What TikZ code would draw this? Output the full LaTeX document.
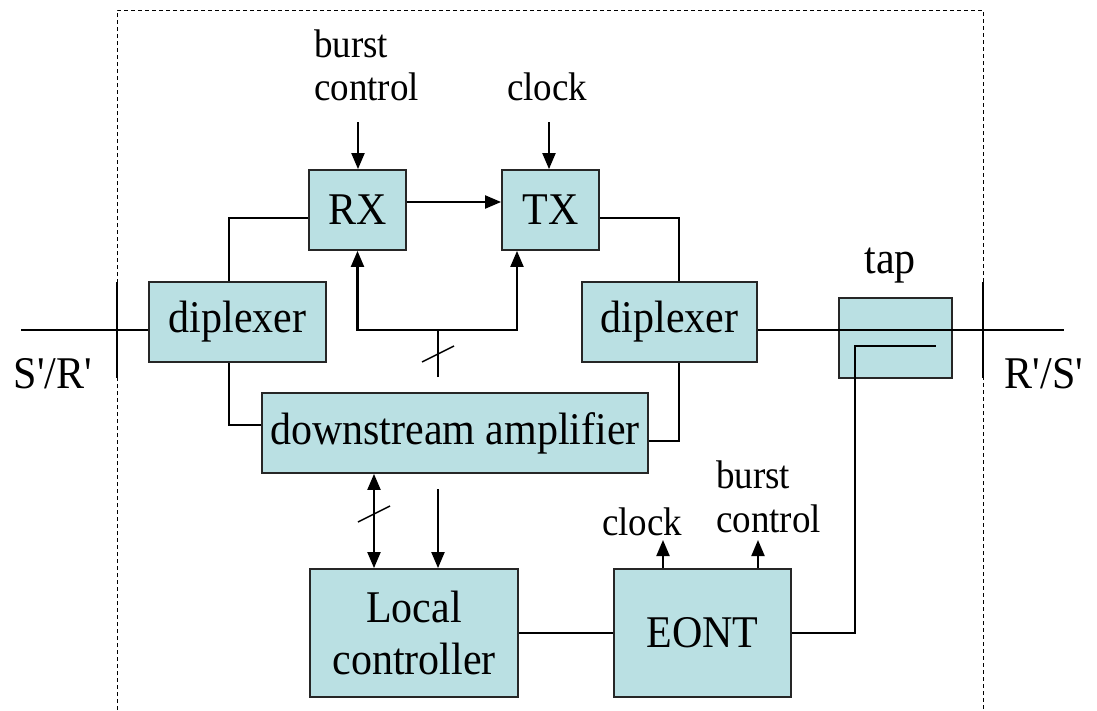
\documentclass[tikz,border=0pt]{standalone}
\usepackage{fontspec}
\usepackage{graphicx}
\setmainfont{Liberation Serif}
\usetikzlibrary{arrows.meta}
\definecolor{boxfill}{RGB}{186,224,227}
\newcommand{\bigf}{\fontsize{42}{52}\selectfont}
\newcommand{\smallf}{\fontsize{37}{44}\selectfont}
\newcommand{\sqt}{\textquotesingle}
\newcommand{\vs}[1]{\scalebox{1}[1.08]{#1}}
\begin{document}
\begin{tikzpicture}[x=1pt,y=-1pt,
  box/.style={draw=black!85,line width=1.8pt,fill=boxfill,inner sep=0pt,font=\bigf,align=center},
  wire/.style={line width=2.1pt},
  thinwire/.style={line width=1.5pt},
  arr/.style={wire,-{Triangle[length=16pt,width=13pt]}},
  darr/.style={wire,{Triangle[length=16pt,width=13pt]}-{Triangle[length=16pt,width=13pt]}},
  lbl/.style={inner sep=0pt,font=\bigf},
  slbl/.style={inner sep=0pt,font=\smallf},
  frame/.style={line width=1pt,dash pattern=on 4pt off 3pt}]
\useasboundingbox (0,0) rectangle (1097,710);
% dashed enclosure
\coordinate (f1) at (117,710);
\coordinate (f2) at (117,10);
\coordinate (f3) at (983,10);
\coordinate (f4) at (983,710);
\draw[frame] (f1) -- (f2) -- (f3) -- (f4);

% boxes
\node[box,minimum width=97pt,minimum height=80pt] (RX) at (357.5,210) {\vs{RX}};
\node[box,minimum width=97pt,minimum height=80pt] (TX) at (550.5,210) {\vs{TX}};
\node[box,minimum width=177pt,minimum height=80pt] (dipL) at (237.5,322) {\vs{diplexer}};
\node[box,minimum width=175pt,minimum height=80pt] (dipR) at (669.5,322) {\vs{diplexer}};
\node[box,minimum width=386pt,minimum height=80pt] (amp) at (455,433) {\vs{downstream amplifier}};
\node[box,minimum width=113pt,minimum height=80pt] (tap) at (895.5,338) {};
\node[box,minimum width=208pt,minimum height=128pt] (LC) at (414,633) {\vs{Local}\\\vs{controller}};
\node[box,minimum width=177pt,minimum height=128pt] (EONT) at (702.5,633) {\vs{EONT}};

% labels
\node[slbl,anchor=base west] (bc1) at (314,57) {\vs{burst}};
\node[slbl,anchor=base west] (bc2) at (314,100) {\vs{control}};
\node[slbl,anchor=base west] (clk1) at (507,100) {\vs{clock}};
\node[lbl,anchor=base] (taplbl) at (890,273) {\vs{tap}};
\node[lbl,anchor=base] (sr) at (53,388) {\vs{S\sqt/R\sqt}};
\node[lbl,anchor=base] (rs) at (1044,388) {\vs{R\sqt/S\sqt}};
\node[slbl,anchor=base west] (clk2) at (602,535) {\vs{clock}};
\node[slbl,anchor=base west] (bc3) at (716,488) {\vs{burst}};
\node[slbl,anchor=base west] (bc4) at (716,532) {\vs{control}};

% top control arrows
\coordinate (bcT) at (358,122);
\draw[arr] (bcT) -- (bcT |- RX.north);
\coordinate (ckT) at (549,122);
\draw[arr] (ckT) -- (ckT |- TX.north);
\draw[arr] ([yshift=8pt]RX.east) -- ([yshift=8pt]TX.west);

% diplexers to RX / TX
\draw[wire] ([xshift=-8.5pt]dipL.north) |- ([yshift=-8pt]RX.west);
\draw[wire] ([yshift=-8pt]TX.east) -| ([xshift=9.5pt]dipR.north);

% main line
\coordinate (Lend) at (21,330);
\draw[wire] (Lend) -- (Lend -| dipL.west);
\coordinate (LtickT) at (117,282);
\coordinate (LtickB) at (117,378);
\draw[wire] (LtickT) -- (LtickB);
\coordinate (Rend) at (1064,330);
\draw[wire] (Rend -| dipR.east) -- (Rend);
\coordinate (RtickT) at (983,282);
\coordinate (RtickB) at (983,378);
\draw[wire] (RtickT) -- (RtickB);

% bus to RX and TX
\coordinate (J) at (438,330);
\coordinate (Jb) at (438,377);
\coordinate (txin) at (517,330);
\draw[wire] (Jb) -- (J);
\draw[arr] (J) -| (RX.south);
\draw[arr] (J) -- (txin) -- (txin |- TX.south);
\coordinate (s1a) at (422,362);
\coordinate (s1b) at (454,346);
\draw[thinwire] (s1a) -- (s1b);

% diplexers to amplifier
\draw[wire] ([xshift=-8.5pt]dipL.south) |- ([yshift=8pt]amp.west);
\draw[wire] ([xshift=9.5pt]dipR.south) |- ([yshift=-8pt]amp.east);

% amplifier to local controller
\coordinate (da) at (374,500);
\draw[darr] (da |- amp.south) -- (da |- LC.north);
\coordinate (s2a) at (358,522);
\coordinate (s2b) at (390,506);
\draw[thinwire] (s2a) -- (s2b);
\coordinate (sa) at (438,489);
\draw[arr] (sa) -- (sa |- LC.north);

% LC - EONT - tap
\draw[wire] (LC.east) -- (EONT.west);
\coordinate (tapc) at (855,346);
\coordinate (tapin) at (936,346);
\draw[wire] (EONT.east) -| (tapc) -- (tapin);

% EONT outputs
\coordinate (e1) at (663,540);
\coordinate (e2) at (758,540);
\draw[arr] (e1 |- EONT.north) -- (e1);
\draw[arr] (e2 |- EONT.north) -- (e2);
\end{tikzpicture}
\end{document}
